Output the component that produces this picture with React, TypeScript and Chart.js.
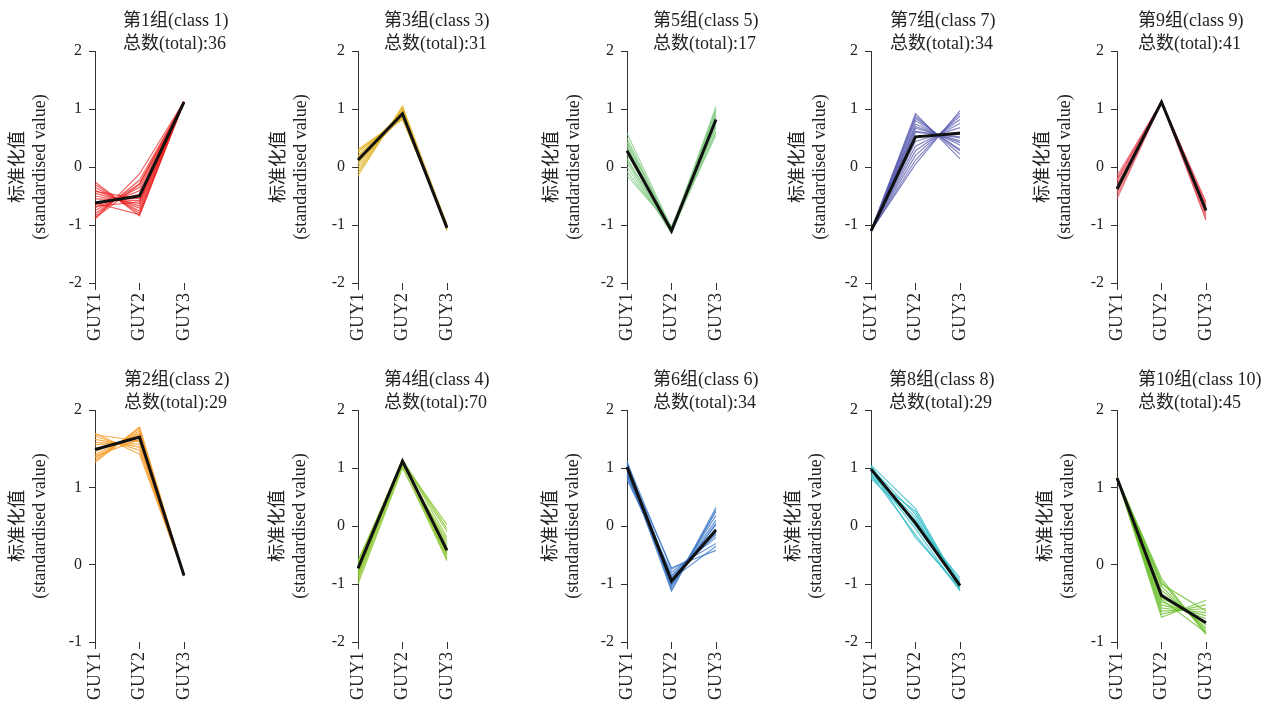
import React, { useEffect, useRef } from "react";
import { Chart, registerables } from "chart.js";

Chart.register(...registerables);

// ---------- data ----------
const categories = ["GUY1", "GUY2", "GUY3"];

const class1Mean = [-0.62, -0.5, 1.12];
const class1Lines = [
  [-0.26, -0.84, 1.12], [-0.3, -0.8, 1.12], [-0.35, -0.76, 1.13], [-0.4, -0.71, 1.12],
  [-0.45, -0.67, 1.11], [-0.5, -0.63, 1.12], [-0.55, -0.58, 1.12], [-0.6, -0.53, 1.13],
  [-0.65, -0.47, 1.12], [-0.7, -0.41, 1.12], [-0.75, -0.35, 1.11], [-0.8, -0.29, 1.12],
  [-0.85, -0.23, 1.12], [-0.9, -0.12, 1.13], [-0.62, -0.82, 1.12], [-0.88, -0.3, 1.12],
  [-0.42, -0.55, 1.12], [-0.68, -0.6, 1.12],
];

const class3Mean = [0.12, 0.92, -1.05];
const class3Lines = [
  [0.3, 0.84, -1.02], [0.25, 0.87, -1.05], [0.2, 0.88, -1.04], [0.15, 0.9, -1.06],
  [0.1, 0.92, -1.05], [0.05, 0.95, -1.08], [0.0, 0.97, -1.03], [-0.05, 1.0, -1.07],
  [-0.1, 1.03, -1.1], [-0.15, 1.05, -1.0], [0.28, 0.82, -0.98], [0.18, 0.95, -1.06],
  [0.08, 0.86, -1.04],
];

const class5Mean = [0.28, -1.1, 0.82];
const class5Lines = [
  [0.58, -1.05, 0.55], [0.5, -1.08, 0.62], [0.45, -1.1, 0.7], [0.38, -1.12, 0.78],
  [0.3, -1.1, 0.85], [0.22, -1.08, 0.9], [0.15, -1.12, 0.95], [0.08, -1.15, 1.0],
  [0.0, -1.1, 1.05], [-0.08, -1.06, 0.75], [-0.15, -1.02, 0.68], [0.35, -1.14, 0.6],
  [0.12, -1.1, 0.88], [0.42, -1.05, 0.98],
];

const class7Mean = [-1.1, 0.52, 0.58];
const class7Lines = [
  [-1.1, 0.92, 0.14], [-1.1, 0.88, 0.22], [-1.11, 0.8, 0.3], [-1.1, 0.74, 0.38],
  [-1.09, 0.67, 0.45], [-1.1, 0.6, 0.52], [-1.1, 0.52, 0.6], [-1.12, 0.44, 0.68],
  [-1.1, 0.36, 0.75], [-1.1, 0.28, 0.82], [-1.1, 0.2, 0.88], [-1.11, 0.12, 0.93],
  [-1.1, 0.05, 0.97], [-1.1, 0.84, 0.28], [-1.09, 0.7, 0.42], [-1.1, 0.62, 0.5],
];

const class9Mean = [-0.38, 1.12, -0.75];
const class9Lines = [
  [-0.15, 1.12, -0.62], [-0.2, 1.13, -0.66], [-0.25, 1.12, -0.7], [-0.3, 1.11, -0.72],
  [-0.35, 1.12, -0.75], [-0.4, 1.13, -0.78], [-0.45, 1.12, -0.82], [-0.5, 1.11, -0.86],
  [-0.55, 1.12, -0.9], [-0.42, 1.12, -0.6], [-0.22, 1.12, -0.92], [-0.33, 1.14, -0.68],
];

const class2Mean = [1.49, 1.65, -0.14];
const class2Lines = [
  [1.7, 1.43, -0.13], [1.66, 1.48, -0.14], [1.62, 1.52, -0.14], [1.58, 1.56, -0.13],
  [1.55, 1.6, -0.15], [1.5, 1.64, -0.14], [1.46, 1.68, -0.14], [1.42, 1.7, -0.13],
  [1.38, 1.73, -0.15], [1.35, 1.76, -0.14], [1.32, 1.78, -0.14], [1.4, 1.62, -0.14],
  [1.68, 1.6, -0.13],
];

const class4Mean = [-0.73, 1.12, -0.42];
const class4Lines = [
  [-0.6, 1.1, -0.55], [-0.65, 1.12, -0.5], [-0.7, 1.13, -0.45], [-0.75, 1.12, -0.4],
  [-0.8, 1.1, -0.35], [-0.85, 1.08, -0.3], [-0.9, 1.05, -0.25], [-0.95, 1.03, -0.6],
  [-1.0, 1.0, -0.5], [-0.62, 1.15, -0.2], [-0.68, 1.12, -0.1], [-0.72, 1.1, 0.02],
  [-0.78, 1.14, -0.05], [-0.88, 1.12, -0.58], [-0.66, 1.08, -0.38], [-0.82, 1.13, -0.48],
];

const class6Mean = [1.02, -0.95, -0.07];
const class6Lines = [
  [1.12, -1.1, 0.32], [1.08, -1.05, 0.25], [1.05, -1.0, 0.18], [1.0, -0.98, 0.1],
  [0.95, -0.95, 0.02], [0.9, -0.9, -0.05], [0.85, -0.85, -0.12], [0.8, -0.8, -0.2],
  [1.1, -0.75, -0.3], [1.02, -0.72, -0.42], [0.98, -1.12, 0.28], [0.88, -0.92, -0.35],
  [1.06, -0.88, -0.15], [0.92, -1.02, 0.05],
];

const class8Mean = [0.98, 0.05, -1.03];
const class8Lines = [
  [1.05, 0.3, -1.05], [0.82, 0.1, -0.95], [0.88, -0.15, -1.1], [1.0, 0.2, -1.0],
  [0.95, -0.05, -1.12], [1.02, 0.05, -0.9], [0.9, 0.15, -1.02], [0.98, -0.2, -1.06],
  [1.03, 0.0, -0.98], [0.85, 0.25, -1.08],
];

const class10Mean = [1.12, -0.4, -0.75];
const class10Lines = [
  [1.12, -0.18, -0.9], [1.13, -0.22, -0.88], [1.11, -0.28, -0.85], [1.12, -0.33, -0.82],
  [1.12, -0.38, -0.78], [1.13, -0.43, -0.75], [1.12, -0.48, -0.7], [1.11, -0.52, -0.66],
  [1.12, -0.56, -0.62], [1.12, -0.6, -0.57], [1.13, -0.64, -0.52], [1.12, -0.68, -0.46],
  [1.12, -0.25, -0.6], [1.12, -0.45, -0.88],
];

const classIds = [1, 3, 5, 7, 9, 2, 4, 6, 8, 10];
const totals = [36, 31, 17, 34, 41, 29, 70, 34, 29, 45];
const meanSeries = [class1Mean, class3Mean, class5Mean, class7Mean, class9Mean, class2Mean, class4Mean, class6Mean, class8Mean, class10Mean];
const memberSeries = [class1Lines, class3Lines, class5Lines, class7Lines, class9Lines, class2Lines, class4Lines, class6Lines, class8Lines, class10Lines];
const yMins = [-2, -2, -2, -2, -2, -1, -2, -2, -2, -1];
const yMaxs = [2, 2, 2, 2, 2, 2, 2, 2, 2, 2];
const yTitle = ["标准化值", "(standardised value)"];

// ---------- styles / layout ----------
const lineColors = [
  "rgba(236,32,30,0.72)", "rgba(224,180,40,0.8)", "rgba(125,200,125,0.7)", "rgba(84,88,172,0.72)", "rgba(228,80,92,0.72)",
  "rgba(246,152,32,0.8)", "rgba(142,200,54,0.78)", "rgba(62,120,200,0.78)", "rgba(52,190,200,0.8)", "rgba(104,190,40,0.78)",
];
const axisXs = [95, 358, 627, 871, 1117];
const titleXs = [123, 384, 653, 890, 1138, 124, 384, 653, 889, 1138];
const yTitleCenters = [65.5, 68, 64, 61.5, 63, 65.5, 68.5, 64.5, 66, 60];
const ROW_TOP = [0, 359];
const CANVAS_W = 260;
const CANVAS_H = 345;
const LEFT_W = 95;
const PLOT_W = 89;
const PLOT_TOP = 51;
const PLOT_BOTTOM = 283;
const FONT = "'Liberation Serif', 'Noto Sans CJK SC', serif";
const INK = "#222";
const AXIS = "#333";
const Y_LH = 1.2;

const panelTitlePlugin = {
  id: "panelTitle",
  afterDraw(chart: any, _args: any, opts: any) {
    const ctx = chart.ctx;
    ctx.save();
    ctx.font = `18px ${FONT}`;
    ctx.fillStyle = INK;
    ctx.textAlign = "left";
    ctx.textBaseline = "middle";
    (opts.lines || []).forEach((t: string, i: number) => ctx.fillText(t, opts.x, 21.7 + i * 22.3));
    ctx.restore();
  },
};

function Panel({ idx }: { idx: number }) {
  const ref = useRef<HTMLCanvasElement | null>(null);
  const row = idx < 5 ? 0 : 1;
  const col = idx % 5;
  const left = axisXs[col] - LEFT_W;
  const top = ROW_TOP[row];

  useEffect(() => {
    if (!ref.current) return;
    const id = classIds[idx];
    const members = memberSeries[idx].map((vals) => ({
      data: vals,
      borderColor: lineColors[idx],
      borderWidth: 1.2,
      pointRadius: 0,
      tension: 0,
      order: 1,
    }));
    const yTitleSize = 18;
    const lh = yTitleSize * Y_LH;
    const yPad = LEFT_W - yTitleCenters[idx] - lh;
    const chart = new Chart(ref.current, {
      type: "line",
      data: {
        labels: categories,
        datasets: [
          {
            data: meanSeries[idx],
            borderColor: "#111",
            borderWidth: 3,
            pointRadius: 0,
            tension: 0,
            order: 0,
          },
          ...members,
        ],
      },
      plugins: [panelTitlePlugin],
      options: {
        responsive: false,
        animation: false,
        events: [],
        layout: { padding: { left: 0, top: PLOT_TOP, right: CANVAS_W - LEFT_W - PLOT_W, bottom: 0 } },
        plugins: {
          legend: { display: false },
          tooltip: { enabled: false },
          panelTitle: {
            x: titleXs[idx] - left,
            lines: [`第${id}组(class ${id})`, `总数(total):${totals[idx]}`],
          },
        } as any,
        scales: {
          x: {
            offset: false,
            border: { display: false },
            grid: { display: true, drawOnChartArea: false, drawTicks: true, tickLength: 7, color: AXIS, lineWidth: 1 },
            ticks: {
              autoSkip: false,
              minRotation: 90,
              maxRotation: 90,
              padding: 3,
              color: INK,
              font: { family: FONT, size: 18 },
            },
            afterFit: (s: any) => {
              s.height = CANVAS_H - PLOT_BOTTOM;
            },
          },
          y: {
            min: yMins[idx],
            max: yMaxs[idx],
            border: { display: true, color: AXIS, width: 1 },
            grid: { display: true, drawOnChartArea: false, drawTicks: true, tickLength: 6, color: AXIS, lineWidth: 1 },
            ticks: {
              stepSize: 1,
              padding: 7,
              color: INK,
              font: { family: FONT, size: 16 },
            },
            title: {
              display: true,
              text: yTitle,
              color: INK,
              font: { family: FONT, size: yTitleSize, lineHeight: Y_LH },
              padding: { top: yPad, bottom: 0 },
            },
            afterFit: (s: any) => {
              s.width = LEFT_W;
            },
          },
        },
      },
    } as any);
    return () => chart.destroy();
  }, [idx]);

  return (
    <canvas
      ref={ref}
      width={CANVAS_W}
      height={CANVAS_H}
      style={{ position: "absolute", left, top, width: CANVAS_W, height: CANVAS_H }}
    />
  );
}

export default function App() {
  return (
    <div
      style={{
        position: "absolute",
        left: 0,
        top: 0,
        width: 1266,
        height: 705,
        overflow: "hidden",
        background: "#fff",
      }}
    >
      {classIds.map((_, i) => (
        <Panel key={i} idx={i} />
      ))}
    </div>
  );
}
